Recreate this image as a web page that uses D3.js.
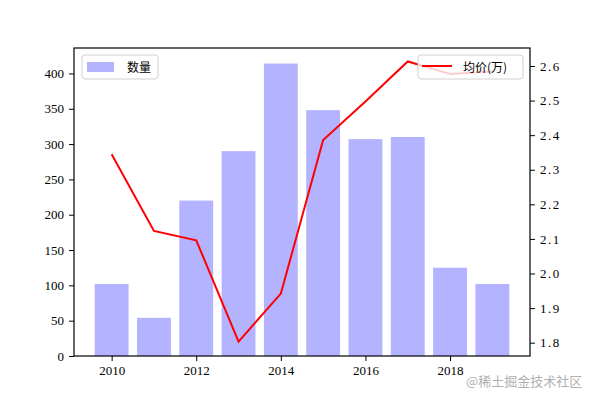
<!DOCTYPE html>
<html>
<head>
<meta charset="utf-8">
<title>数量与均价</title>
<style>
  body { margin: 0; background: #fff; }
  svg { display: block; }
  .tick text { font-family: "Liberation Serif", "Noto Sans CJK SC", serif; font-size: 13px; fill: #000; }
  .right .tick text { letter-spacing: 1.5px; }
  .leg text { font-family: "Noto Sans CJK SC", serif; font-size: 12px; fill: #000; }
</style>
</head>
<body>
<script src="https://cdn.jsdelivr.net/npm/d3@7"></script>
<script>
  var years = [2010, 2011, 2012, 2013, 2014, 2015, 2016, 2017, 2018, 2019];
  var counts = [102, 54, 220, 290, 414, 348, 307, 310, 125, 102];
  var prices = [2.345, 2.123, 2.096, 1.803, 1.942, 2.386, 2.497, 2.613, 2.577, 2.584];
  var xTicks = [2010, 2012, 2014, 2016, 2018];
  var leftTicks = [0, 50, 100, 150, 200, 250, 300, 350, 400];
  var rightTicks = [1.8, 1.9, 2.0, 2.1, 2.2, 2.3, 2.4, 2.5, 2.6];

  var W = 589, H = 400;
  var margin = {top: 48, right: 59, bottom: 44, left: 74};
  var width = W - margin.left - margin.right,
      height = H - margin.top - margin.bottom;

  var svg = d3.select("body").append("svg")
      .attr("width", W)
      .attr("height", H);
  var g = svg.append("g")
      .attr("transform", "translate(" + margin.left + "," + margin.top + ")");

  // x is numeric so the bars centre on the year ticks
  var x = d3.scaleLinear().domain([2009.11, 2019.89]).range([0, width]);
  var bw = x(2010.4) - x(2009.6);
  var yL = d3.scaleLinear().domain([0, 436]).range([height, 0]);
  var yR = d3.scaleLinear().domain([1.7615, 2.652]).range([height, 0]);

  g.selectAll("rect.bar")
    .data(years)
    .enter().append("rect")
    .attr("class", "bar")
    .attr("x", function (d) { return x(d) - bw / 2; })
    .attr("width", bw)
    .attr("y", function (d, i) { return yL(counts[i]); })
    .attr("height", function (d, i) { return height - yL(counts[i]); })
    .attr("fill", "#b3b3ff");

  var line = d3.line()
    .x(function (d) { return x(d); })
    .y(function (d, i) { return yR(prices[i]); });

  g.append("path")
    .datum(years)
    .attr("fill", "none")
    .attr("stroke", "#ff0000")
    .attr("stroke-width", 2)
    .attr("d", line);

  g.append("g")
    .attr("transform", "translate(0," + height + ")")
    .call(d3.axisBottom(x).tickValues(xTicks).tickFormat(d3.format("d")).tickSize(5).tickPadding(5));
  g.append("g")
    .call(d3.axisLeft(yL).tickValues(leftTicks).tickSize(5).tickPadding(5));
  g.append("g")
    .attr("class", "right")
    .attr("transform", "translate(" + width + ",0)")
    .call(d3.axisRight(yR).tickValues(rightTicks).tickFormat(d3.format(".1f")).tickSize(5).tickPadding(5));

  g.selectAll(".domain").remove();
  g.append("rect")
    .attr("width", width)
    .attr("height", height)
    .attr("fill", "none")
    .attr("stroke", "#000")
    .attr("stroke-width", 1.2);
  g.selectAll(".tick line").attr("stroke", "#000");

  // legends
  var leg1 = g.append("g").attr("class", "leg").attr("transform", "translate(8,7)");
  leg1.append("rect").attr("width", 76).attr("height", 24).attr("rx", 3)
    .attr("fill", "#fff").attr("fill-opacity", 0.8).attr("stroke", "#d0d0d0");
  leg1.append("rect").attr("x", 5).attr("y", 7).attr("width", 27).attr("height", 10).attr("fill", "#b3b3ff");
  leg1.append("text").attr("x", 45).attr("y", 16.5).text("数量");

  var leg2 = g.append("g").attr("class", "leg").attr("transform", "translate(" + (width - 112) + ",7)");
  leg2.append("rect").attr("width", 105).attr("height", 24).attr("rx", 3)
    .attr("fill", "#fff").attr("fill-opacity", 0.8).attr("stroke", "#d0d0d0");
  leg2.append("line").attr("x1", 4).attr("x2", 34).attr("y1", 11).attr("y2", 11)
    .attr("stroke", "#ff0000").attr("stroke-width", 2);
  leg2.append("text").attr("x", 45).attr("y", 16.5).text("均价(万)");

  svg.append("text")
    .attr("x", 466).attr("y", 386)
    .attr("font-family", "Noto Sans CJK SC, sans-serif")
    .attr("font-size", 13)
    .attr("fill", "#b0b0b0")
    .text("@稀土掘金技术社区");
</script>
</body>
</html>
